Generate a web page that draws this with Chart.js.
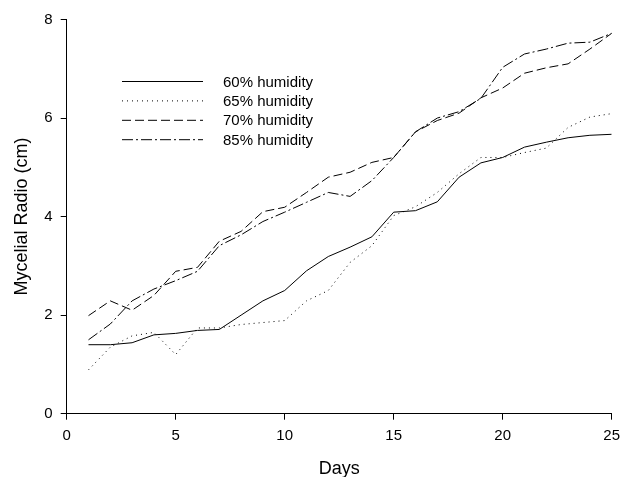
<!DOCTYPE html>
<html>
<head>
<meta charset="utf-8">
<title>Mycelial radio vs days</title>
<script src="https://cdn.jsdelivr.net/npm/chart.js@4/dist/chart.umd.min.js"></script>
<style>
    html, body { margin: 0; padding: 0; background: #fff; }
    #wrap { width: 620px; height: 477px; }
</style>
</head>
<body>
<div id="wrap"><canvas id="radioChart" width="620" height="477"></canvas></div>
<script>
// ===== data =====
const days = [1, 2, 3, 4, 5, 6, 7, 8, 9, 10, 11, 12, 13, 14, 15, 16, 17, 18, 19, 20, 21, 22, 23, 24, 25];

const hum60 = [1.40, 1.40, 1.44, 1.60, 1.63, 1.69, 1.71, 2.00, 2.29, 2.50, 2.90, 3.19, 3.38, 3.59, 4.09,
               4.12, 4.30, 4.80, 5.09, 5.20, 5.41, 5.51, 5.60, 5.65, 5.67];
const hum65 = [0.89, 1.35, 1.58, 1.65, 1.20, 1.74, 1.74, 1.81, 1.85, 1.89, 2.29, 2.50, 3.07, 3.41, 4.02,
               4.20, 4.49, 4.87, 5.20, 5.20, 5.30, 5.39, 5.81, 6.02, 6.09];
const hum70 = [1.99, 2.29, 2.10, 2.40, 2.89, 2.97, 3.50, 3.70, 4.10, 4.19, 4.49, 4.80, 4.90, 5.10, 5.20,
               5.72, 5.95, 6.10, 6.41, 6.61, 6.91, 7.02, 7.10, 7.40, 7.72];
const hum85 = [1.50, 1.82, 2.29, 2.53, 2.70, 2.89, 3.41, 3.63, 3.90, 4.09, 4.29, 4.49, 4.41, 4.73, 5.20,
               5.72, 6.00, 6.13, 6.40, 7.03, 7.30, 7.40, 7.52, 7.54, 7.72];

const seriesLabels = ['60% humidity', '65% humidity', '70% humidity', '85% humidity'];
const xTicks = [0, 5, 10, 15, 20, 25];
const yTicks = [0, 2, 4, 6, 8];

const FONT = 'Liberation Sans, Arial, Helvetica, sans-serif';

function toPoints(values) {
    return days.map((d, i) => ({ x: d, y: values[i] }));
}

// legend drawn inside the plot, like the original figure
const insideLegend = {
    id: 'insideLegend',
    afterDraw(chart) {
        const ctx = chart.ctx;
        ctx.save();
        ctx.font = '15px ' + FONT;
        ctx.fillStyle = '#000';
        ctx.textBaseline = 'middle';
        chart.data.datasets.forEach((ds, i) => {
            const y = 81 + i * 19.4;
            ctx.strokeStyle = ds.borderColor;
            ctx.lineWidth = ds.borderWidth;
            ctx.setLineDash(ds.borderDash || []);
            ctx.beginPath();
            ctx.moveTo(122, y + 0.5);
            ctx.lineTo(203, y + 0.5);
            ctx.stroke();
            ctx.setLineDash([]);
            ctx.fillText(ds.label, 223, y + 1.5);
        });
        ctx.restore();
    }
};

const dashes = [[], [1, 4], [9, 4], [11, 3, 2, 3]];
const lineData = [hum60, hum65, hum70, hum85];

new Chart(document.getElementById('radioChart').getContext('2d'), {
    type: 'line',
    data: {
        datasets: lineData.map((vals, i) => ({
            label: seriesLabels[i],
            data: toPoints(vals),
            borderColor: '#000',
            borderWidth: 1,
            borderDash: dashes[i],
            pointRadius: 0,
            fill: false,
            tension: 0
        }))
    },
    options: {
        responsive: false,
        animation: false,
        layout: { padding: { left: 0, right: 8.3, top: 19.5, bottom: 0 } },
        plugins: {
            legend: { display: false },
            tooltip: { enabled: false }
        },
        scales: {
            x: {
                type: 'linear',
                min: 0,
                max: 25,
                afterBuildTicks: function(scale) {
                    scale.ticks = xTicks.map(v => ({ value: v }));
                },
                afterFit: function(scale) {
                    scale.height = 477 - 413.7;
                    scale.paddingLeft = 0;
                    scale.paddingRight = 0;
                },
                ticks: {
                    color: '#000',
                    padding: 7,
                    font: { family: FONT, size: 15 }
                },
                grid: {
                    drawOnChartArea: false,
                    drawTicks: true,
                    tickLength: 6,
                    color: '#000'
                },
                border: { display: true, color: '#000', width: 1 },
                title: {
                    display: true,
                    text: 'Days',
                    color: '#000',
                    padding: { top: 0, bottom: -1 },
                    font: { family: FONT, size: 18, lineHeight: 1 }
                }
            },
            y: {
                type: 'linear',
                min: 0,
                max: 8,
                afterBuildTicks: function(scale) {
                    scale.ticks = yTicks.map(v => ({ value: v }));
                },
                afterFit: function(scale) {
                    scale.width = 66.7;
                    scale.paddingTop = 0;
                    scale.paddingBottom = 0;
                },
                ticks: {
                    color: '#000',
                    padding: 8,
                    font: { family: FONT, size: 15 }
                },
                grid: {
                    drawOnChartArea: false,
                    drawTicks: true,
                    tickLength: 6,
                    color: '#000'
                },
                border: { display: true, color: '#000', width: 1 },
                title: {
                    display: true,
                    text: 'Mycelial Radio (cm)',
                    color: '#000',
                    padding: { top: 13, bottom: 0 },
                    font: { family: FONT, size: 18, lineHeight: 1 }
                }
            }
        }
    },
    plugins: [insideLegend]
});
</script>
</body>
</html>
